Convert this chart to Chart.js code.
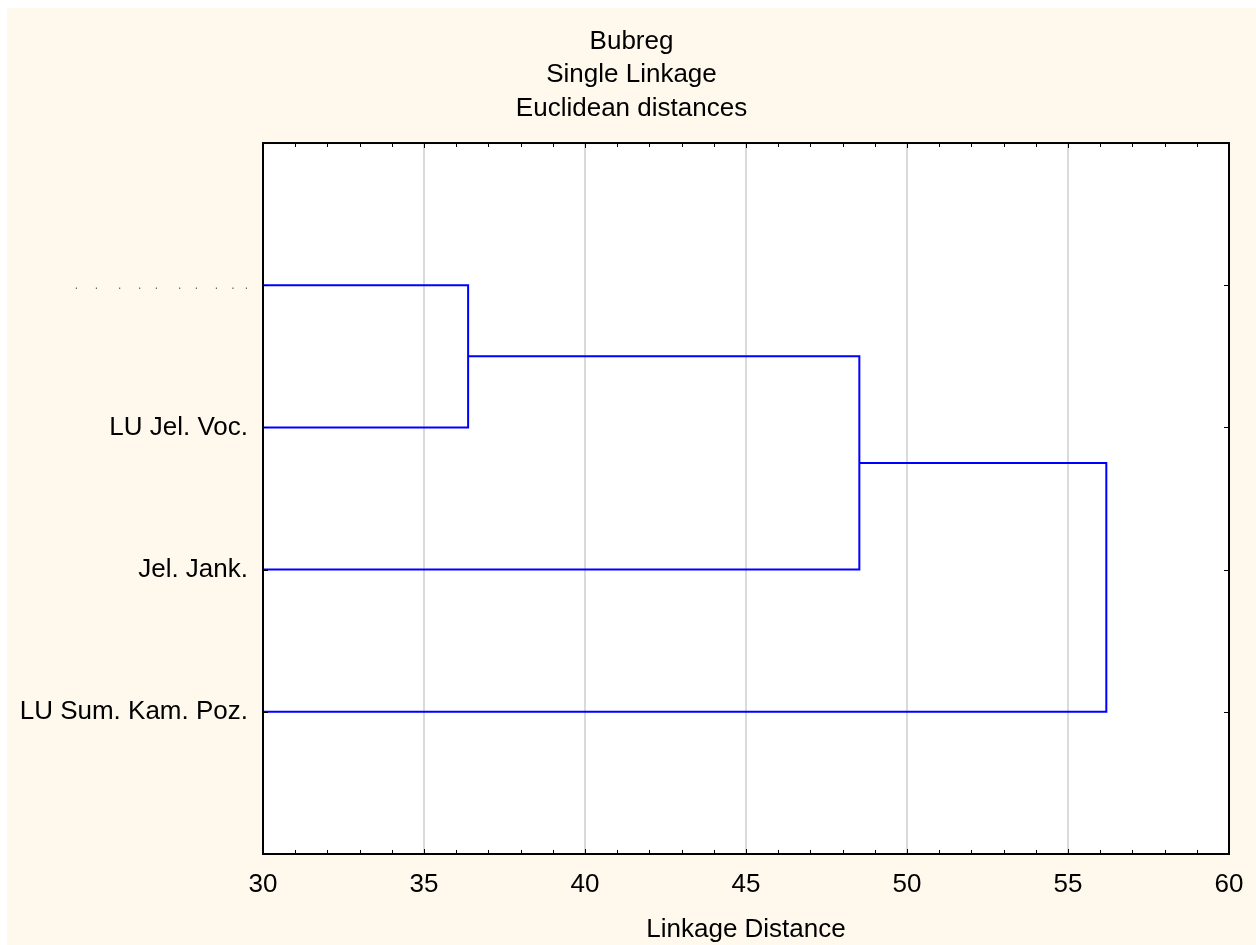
<!DOCTYPE html>
<html>
<head>
<meta charset="utf-8">
<script src="https://cdn.jsdelivr.net/npm/chart.js@4/dist/chart.umd.min.js"></script>
<style>
  html, body { margin: 0; padding: 0; background: #ffffff; }
  #wrap { width: 1256px; height: 945px; }
</style>
</head>
<body>
<div id="wrap"><canvas id="myChart" width="1256" height="945"></canvas></div>
<script>
// leaves from top to bottom
let leafLabels = [".     .      .     .    .      .    .     .    .   .", "LU Jel. Voc.", "Jel. Jank.", "LU Sum. Kam. Poz."];
// each merge: [left cluster, right cluster]; clusters are leaf index or "m" + merge index
let mergePairs = [[0, 1], ["m0", 2], ["m1", 3]];
let mergeDistances = [36.37, 48.52, 56.19];
let xTicks = [30, 35, 40, 45, 50, 55, 60];
let titleLines = ["Bubreg", "Single Linkage", "Euclidean distances"];
let xTitle = "Linkage Distance";

let fontFam = "'Liberation Sans', Arial, sans-serif";
let xMin = 30;

// build the dendrogram U shapes
let clusterPos = [];
let dataSets = [];
function posOf(c) {
    if (typeof c === "string") return clusterPos[parseInt(c.slice(1))];
    return { y: c + 1, x: xMin };
}
for (let i = 0; i < mergePairs.length; i++) {
    let a = posOf(mergePairs[i][0]);
    let b = posOf(mergePairs[i][1]);
    let d = mergeDistances[i];
    dataSets.push({
        data: [{x: a.x, y: a.y}, {x: d, y: a.y}, {x: d, y: b.y}, {x: b.x, y: b.y}],
        borderColor: "#0000ff",
        borderWidth: 2,
        pointRadius: 0,
        fill: false,
        tension: 0
    });
    clusterPos.push({ x: d, y: (a.y + b.y) / 2 });
}

const frame = {
    id: "frame",
    beforeDraw(chart) {
        let c = chart.ctx;
        let a = chart.chartArea;
        c.save();
        c.fillStyle = "#ffffff";
        c.fillRect(0, 0, chart.width, chart.height);
        c.fillStyle = "#fff9ed";
        c.fillRect(7, 8, chart.width - 7, chart.height - 8);
        c.fillStyle = "#ffffff";
        c.fillRect(a.left, a.top, a.right - a.left, a.bottom - a.top);
        c.restore();
    },
    afterDraw(chart) {
        let c = chart.ctx;
        let a = chart.chartArea;
        let xs = chart.scales.x;
        let ys = chart.scales.y;
        c.save();
        c.strokeStyle = "#000000";
        c.lineWidth = 1;
        c.beginPath();
        for (let v = xs.min; v <= xs.max; v++) {
            let px = Math.round(xs.getPixelForValue(v)) + 0.5;
            let len = v % 5 === 0 ? 5 : 4;
            c.moveTo(px, a.top); c.lineTo(px, a.top + len);
            c.moveTo(px, a.bottom); c.lineTo(px, a.bottom - len);
        }
        for (let i = 0; i < leafLabels.length; i++) {
            let py = Math.round(ys.getPixelForValue(i + 1)) + 0.5;
            c.moveTo(a.left, py); c.lineTo(a.left + 5, py);
            c.moveTo(a.right, py); c.lineTo(a.right - 5, py);
        }
        c.stroke();
        c.lineWidth = 2;
        c.strokeRect(a.left, a.top, a.right - a.left, a.bottom - a.top);
        c.restore();
    }
};

new Chart("myChart", {
    type: "line",
    data: { datasets: dataSets },
    plugins: [frame],
    options: {
        responsive: false,
        animation: false,
        events: [],
        layout: { padding: { top: 0, right: 0, bottom: 0, left: 7 } },
        plugins: {
            legend: { display: false },
            tooltip: { enabled: false },
            title: {
                display: true,
                text: titleLines,
                color: "#000000",
                font: { family: fontFam, size: 26, weight: "normal", lineHeight: 1.29 },
                padding: { top: 25, bottom: 17.4 }
            }
        },
        scales: {
            x: {
                type: "linear",
                min: 30,
                max: 60,
                afterFit: function(scale) {
                    scale.height = 91;
                    scale.paddingLeft = 0;
                    scale.paddingRight = 0;
                },
                afterBuildTicks: function(scale) {
                    scale.ticks = xTicks.map(v => ({ value: v }));
                },
                ticks: {
                    color: "#000000",
                    padding: 15,
                    maxRotation: 0,
                    autoSkip: false,
                    font: { family: fontFam, size: 26 },
                    callback: v => String(v)
                },
                grid: { color: "#dadada", lineWidth: 2, drawTicks: false },
                border: { display: false },
                title: {
                    display: true,
                    text: xTitle,
                    color: "#000000",
                    font: { family: fontFam, size: 26 },
                    padding: { top: 4, bottom: 0 }
                }
            },
            y: {
                type: "linear",
                min: 0,
                max: 5,
                reverse: true,
                afterFit: function(scale) { scale.width = 256; },
                afterBuildTicks: function(scale) {
                    scale.ticks = leafLabels.map((l, i) => ({ value: i + 1 }));
                },
                ticks: {
                    padding: 15,
                    autoSkip: false,
                    color: ctx => ctx.index === 0 ? "#666666" : "#000000",
                    font: ctx => ctx.index === 0 ? { family: fontFam, size: 12 } : { family: fontFam, size: 26 },
                    callback: (v, i) => leafLabels[i]
                },
                grid: { display: false, drawTicks: false },
                border: { display: false }
            },
            y2: {
                type: "linear",
                position: "right",
                display: true,
                min: 0,
                max: 5,
                afterFit: function(scale) { scale.width = 27; },
                ticks: { display: false },
                grid: { display: false, drawTicks: false },
                border: { display: false }
            }
        }
    }
});
</script>
</body>
</html>
